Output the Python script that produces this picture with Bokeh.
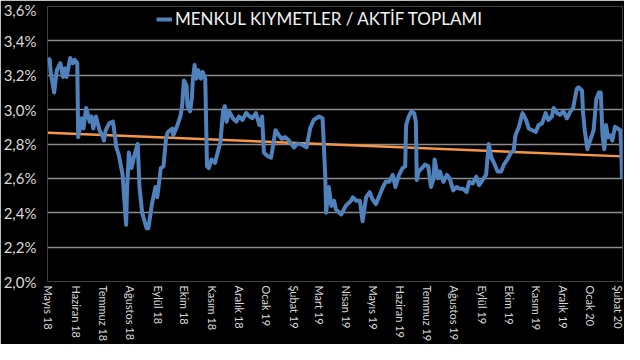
import pandas as pd
from bokeh.plotting import figure
from bokeh.models import (Range1d, FixedTicker, CustomJSTickFormatter, Legend,
                          LegendItem)
from bokeh.embed import file_html
from bokeh.resources import INLINE

# ---- data -------------------------------------------------------------
base_date = "2018-05-01"          # day 0
day = [-1, 1, 2, 6, 9, 13, 16, 18, 20, 24, 27, 29, 32, 33, 37, 39, 42, 46, 48, 50,
       53, 57, 61, 62, 64, 68, 72, 73, 76, 79, 83, 87, 88, 90, 93, 96, 100, 102, 105, 110,
       112, 116, 120, 122, 126, 129, 132, 134, 139, 140, 144, 148, 150, 152, 155, 156, 159, 161, 162, 164,
       166, 168, 171, 173, 176, 178, 180, 183, 187, 190, 193, 196, 198, 200, 203, 207, 211, 214, 218, 222,
       226, 229, 233, 237, 240, 242, 246, 250, 252, 255, 259, 262, 266, 270, 276, 279, 283, 287, 290, 294,
       298, 301, 304, 308, 311, 312, 315, 318, 321, 323, 329, 334, 340, 342, 346, 350, 353, 357, 361, 364,
       368, 372, 376, 379, 383, 387, 390, 394, 398, 401, 402, 405, 408, 411, 413, 414, 416, 420, 423, 427,
       430, 433, 434, 438, 440, 444, 448, 451, 455, 459, 462, 466, 470, 473, 477, 481, 484, 488, 492, 495,
       498, 501, 505, 509, 512, 516, 520, 523, 525, 529, 533, 537, 540, 544, 548, 551, 555, 559, 562, 566,
       568, 572, 575, 579, 583, 587, 590, 594, 596, 600, 601, 603, 606, 609, 611, 613, 616, 619, 621, 623,
       625, 627, 629, 632, 634, 637, 640, 643, 644, 645]
ratio = [3.30, 3.29, 3.22, 3.10, 3.23, 3.27, 3.19, 3.24, 3.19, 3.30, 3.27, 3.29, 3.27, 2.84, 2.95, 2.89, 3.01, 2.93, 2.96, 2.89,
         2.96, 2.88, 2.84, 2.82, 2.88, 2.92, 2.93, 2.90, 2.78, 2.73, 2.62, 2.33, 2.53, 2.75, 2.66, 2.73, 2.80, 2.55, 2.40, 2.31,
         2.31, 2.45, 2.55, 2.49, 2.66, 2.67, 2.84, 2.87, 2.89, 2.85, 2.90, 2.96, 3.02, 3.17, 3.14, 3.02, 2.99, 3.07, 3.17, 3.26,
         3.18, 3.23, 3.18, 3.22, 3.18, 2.67, 2.66, 2.71, 2.69, 2.75, 2.81, 2.99, 3.02, 2.93, 2.99, 2.95, 2.93, 2.96, 2.94, 2.98,
         2.96, 2.95, 2.98, 2.91, 2.96, 2.75, 2.73, 2.72, 2.78, 2.88, 2.85, 2.83, 2.84, 2.82, 2.78, 2.80, 2.80, 2.79, 2.78, 2.89,
         2.94, 2.95, 2.96, 2.95, 2.62, 2.40, 2.55, 2.44, 2.47, 2.42, 2.39, 2.44, 2.47, 2.49, 2.47, 2.47, 2.35, 2.49, 2.52, 2.48,
         2.45, 2.50, 2.55, 2.58, 2.58, 2.62, 2.55, 2.62, 2.66, 2.67, 2.91, 2.96, 2.99, 2.98, 2.93, 2.59, 2.64, 2.66, 2.68, 2.67,
         2.55, 2.60, 2.71, 2.60, 2.64, 2.58, 2.62, 2.60, 2.53, 2.55, 2.54, 2.54, 2.52, 2.58, 2.57, 2.61, 2.56, 2.59, 2.62, 2.80,
         2.72, 2.69, 2.64, 2.64, 2.68, 2.71, 2.75, 2.76, 2.85, 2.90, 2.98, 2.94, 2.89, 2.88, 2.87, 2.91, 2.92, 2.98, 2.94, 2.96,
         3.01, 2.98, 2.97, 2.99, 2.95, 2.99, 3.01, 3.12, 3.13, 3.11, 2.99, 2.88, 2.77, 2.82, 2.85, 2.88, 3.06, 3.10, 3.10, 2.85,
         2.77, 2.91, 2.84, 2.85, 2.82, 2.90, 2.89, 2.88, 2.78, 2.60]
trend_start = 2.865
trend_end = 2.728

month_starts = ["2018-05-01", "2018-06-01", "2018-07-01", "2018-08-01", "2018-09-01", "2018-10-01",
                "2018-11-01", "2018-12-01", "2019-01-01", "2019-02-01", "2019-03-01", "2019-04-01",
                "2019-05-01", "2019-06-01", "2019-07-01", "2019-08-01", "2019-09-01", "2019-10-01",
                "2019-11-01", "2019-12-01", "2020-01-01", "2020-02-01"]
month_labels = ["Mayıs 18", "Haziran 18", "Temmuz 18", "Ağustos 18", "Eylül 18", "Ekim 18",
                "Kasım 18", "Aralık 18", "Ocak 19", "Şubat 19", "Mart 19", "Nisan 19",
                "Mayıs 19", "Haziran 19", "Temmuz 19", "Ağustos 19", "Eylül 19", "Ekim 19",
                "Kasım 19", "Aralık 19", "Ocak 20", "Şubat 20"]
y_ticks = [2.0, 2.2, 2.4, 2.6, 2.8, 3.0, 3.2, 3.4, 3.6]
series_name = "MENKUL KIYMETLER / AKTİF TOPLAMI"

# ---- figure -----------------------------------------------------------
b = pd.Timestamp(base_date)
tick_days = [int((pd.Timestamp(m) - b).days) for m in month_starts]

FONT = "Lato"
p = figure(width=624, height=344, output_backend="svg", toolbar_location=None,
           x_range=Range1d(-1.5, 645.5), y_range=Range1d(2.0, 3.6),
           min_border_left=44, min_border_right=2, min_border_top=6,
           background_fill_color="black", border_fill_color="black",
           outline_line_color=None)

p.line([day[0], day[-1]], [trend_start, trend_end], line_color="#F79646",
       line_width=2.5)
r = p.line(day, ratio, line_color="#4F81BD", line_width=4, line_join="round")

# axes
p.yaxis.ticker = FixedTicker(ticks=y_ticks)
p.yaxis.formatter = CustomJSTickFormatter(
    code="return tick.toFixed(1).replace('.', ',') + '%';")
p.xaxis.ticker = FixedTicker(ticks=tick_days)
p.xaxis.major_label_overrides = {d: l for d, l in zip(tick_days, month_labels)}
p.xaxis.major_label_orientation = "vertical"

for ax in (p.xaxis, p.yaxis):
    ax.axis_line_color = None
    ax.major_tick_line_color = None
    ax.minor_tick_line_color = None
    ax.major_tick_out = 0
    ax.major_tick_in = 0
    ax.major_label_text_color = "#D9D9D9"
    ax.major_label_text_font = FONT
p.yaxis.major_label_text_font_size = "15px"
p.yaxis.major_label_standoff = 11
p.xaxis.major_label_text_font_size = "11px"
p.xaxis.major_label_standoff = 4

p.xgrid.grid_line_color = None
p.ygrid.grid_line_color = "#8C8C8C"
p.ygrid.grid_line_width = 1.6

legend = Legend(items=[LegendItem(label=series_name, renderers=[r])],
                location=(109, 252), orientation="horizontal",
                background_fill_alpha=0, border_line_color=None,
                label_text_color="#F2F2F2", label_text_font=FONT,
                label_text_font_size="17px", glyph_width=16, glyph_height=18,
                label_standoff=3, padding=0, margin=0, spacing=0)
p.add_layout(legend)

open("out.html", "w").write(file_html(p, INLINE))
